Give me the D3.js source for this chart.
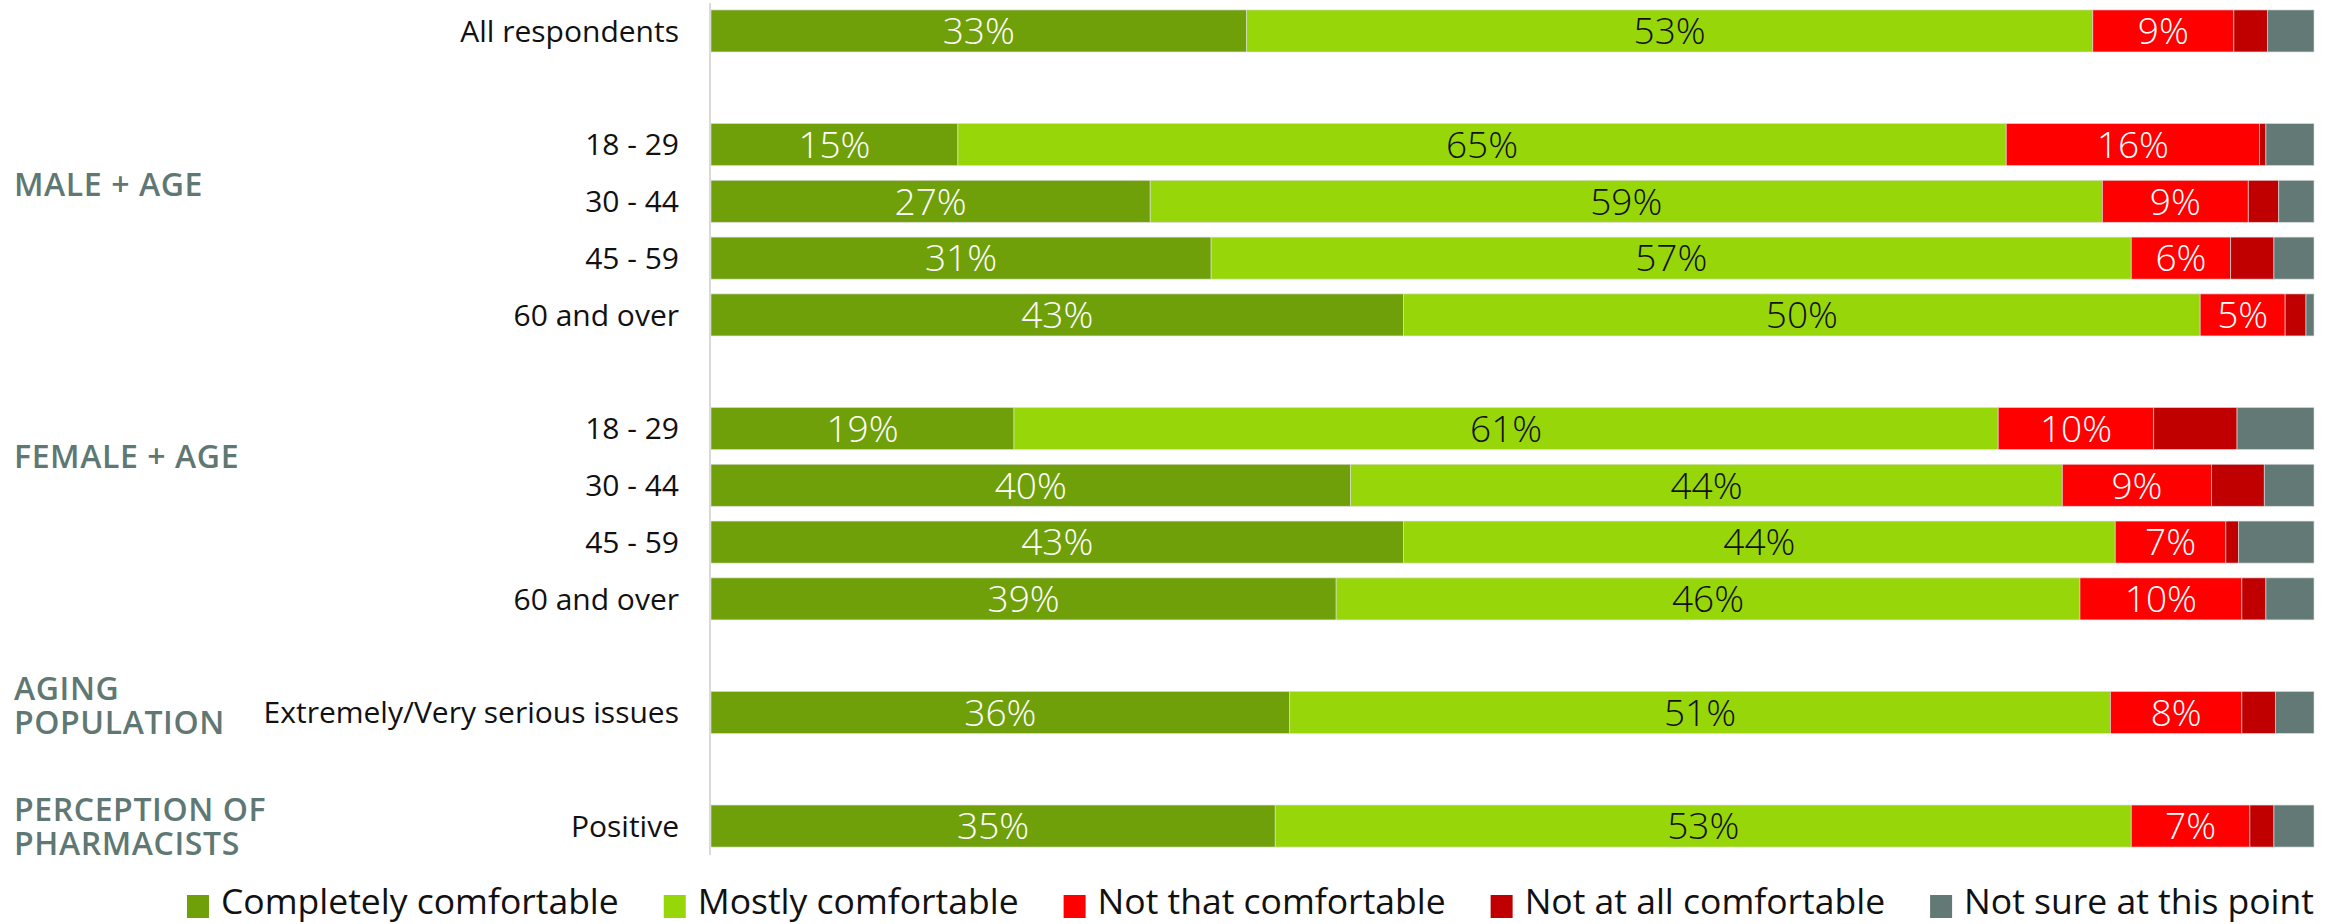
<!DOCTYPE html>
<html>
<head>
<meta charset="utf-8">
<script src="https://cdn.jsdelivr.net/npm/d3@7"></script>
<style>
  html, body { margin: 0; padding: 0; background: #ffffff; }
  svg { display: block; }
</style>
</head>
<body>
<svg id="chart" width="2339" height="924"></svg>
<script>
// ---------------- DATA ----------------
// Row labels (empty strings are spacer rows between groups)
const rowLabels = ["All respondents", "", "18 - 29", "30 - 44", "45 - 59", "60 and over", "",
                   "18 - 29", "30 - 44", "45 - 59", "60 and over", "",
                   "Extremely/Very serious issues", "", "Positive"];

const seriesNames = ["Completely comfortable", "Mostly comfortable", "Not that comfortable",
                     "Not at all comfortable", "Not sure at this point"];

// Percent values per series (null = spacer row)
const completely = [33.4, null, 15.4, 27.4, 31.2, 43.2, null, 18.9, 39.9, 43.2, 39.0, null, 36.1, null, 35.2];
const mostly     = [52.8, null, 65.4, 59.4, 57.4, 49.7, null, 61.4, 44.4, 44.4, 46.4, null, 51.2, null, 53.4];
const notThat    = [ 8.8, null, 15.8,  9.1,  6.2,  5.3, null,  9.7,  9.3,  6.9, 10.1, null,  8.2, null,  7.4];
const notAtAll   = [ 2.1, null,  0.4,  1.9,  2.7,  1.3, null,  5.2,  3.3,  0.8,  1.5, null,  2.1, null,  1.5];
const notSure    = [ 2.9, null,  3.0,  2.2,  2.5,  0.5, null,  4.8,  3.1,  4.7,  3.0, null,  2.4, null,  2.5];

// Group headings: text lines and the row position they sit beside
const groupLines  = [["MALE + AGE"], ["FEMALE + AGE"], ["AGING", "POPULATION"], ["PERCEPTION OF", "PHARMACISTS"]];
const groupAnchor = [2.7, 7.5, 11.88, 14];

// Which series carry value labels
const labelledSeries = [0, 1, 2];

// ---------------- STYLE / LAYOUT ----------------
const colors = ["#6fa00a", "#97d70a", "#ff0000", "#c00000", "#627975"];
const labelColors = ["#ffffff", "#111111", "#ffffff", "#ffffff", "#ffffff"];
const groupColor = "#5f7873";
const FONT = "'Open Sans', 'Noto Sans', 'DejaVu Sans', sans-serif";

const svg = d3.select("#chart");

const seriesArrays = [completely, mostly, notThat, notAtAll, notSure];
const rows = rowLabels.map((label, i) => {
  const o = { idx: i, label: label, spacer: completely[i] === null };
  seriesNames.forEach((s, k) => { o[s] = seriesArrays[k][i] === null ? 0 : seriesArrays[k][i]; });
  return o;
});

const x = d3.scaleLinear().domain([0, 100]).range([711, 2314]);
const y = d3.scaleBand()
  .domain(rows.map(r => r.idx))
  .range([0, 857])
  .paddingInner(0.26)
  .paddingOuter(0.175);

const stack = d3.stack().keys(seriesNames);
const stacked = stack(rows.filter(r => !r.spacer));

// vertical axis line
svg.append("line")
  .attr("x1", x(0) - 1).attr("x2", x(0) - 1)
  .attr("y1", 3).attr("y2", 855)
  .attr("stroke", "#d9d9d9").attr("stroke-width", 2);

// bars
const layers = svg.append("g").selectAll("g")
  .data(stacked).join("g")
  .attr("fill", (d, i) => colors[i]);

layers.selectAll("rect")
  .data(d => d)
  .join("rect")
  .attr("x", d => x(d[0]))
  .attr("width", d => x(d[1]) - x(d[0]))
  .attr("y", d => y(d.data.idx))
  .attr("height", y.bandwidth())
  .attr("stroke", "#dcdcdc")
  .attr("stroke-width", 0.8)
  .attr("stroke-opacity", 0.8);

// value labels
stacked.forEach((layer, k) => {
  if (!labelledSeries.includes(k)) return;
  svg.append("g").selectAll("text")
    .data(layer).join("text")
    .attr("x", d => (x(d[0]) + x(d[1])) / 2)
    .attr("y", d => y(d.data.idx) + y.bandwidth() / 2)
    .attr("dy", "0.36em")
    .attr("text-anchor", "middle")
    .attr("font-family", FONT)
    .attr("font-size", 37)
    .attr("font-weight", 300)
    .attr("fill", labelColors[k])
    .text(d => Math.round(d[1] - d[0]) + "%");
});

// category labels
svg.append("g").selectAll("text")
  .data(rows.filter(r => !r.spacer)).join("text")
  .attr("x", x(0) - 32)
  .attr("y", d => y(d.idx) + y.bandwidth() / 2)
  .attr("dy", "0.36em")
  .attr("text-anchor", "end")
  .attr("font-family", FONT)
  .attr("font-size", 30)
  .attr("fill", "#111111")
  .text(d => d.label);

// group headings (one text element per line)
const lineH = 34;
groupLines.forEach((lines, g) => {
  const cy = y(0) + groupAnchor[g] * y.step() + y.bandwidth() / 2;
  lines.forEach((ln, j) => {
    svg.append("text")
      .attr("x", 14)
      .attr("y", cy + (j - (lines.length - 1) / 2) * lineH)
      .attr("dy", "0.36em")
      .attr("font-family", FONT)
      .attr("font-size", 32)
      .attr("font-weight", 600)
      .attr("letter-spacing", 0.6)
      .attr("fill", groupColor)
      .text(ln);
  });
});

// legend (right aligned to the plot)
const legend = svg.append("g");
const sq = 22, gapText = 12, gapItem = 45, legBase = 914, sqTop = 895;
const items = legend.selectAll("g").data(seriesNames).join("g");
items.append("rect")
  .attr("width", sq).attr("height", 23)
  .attr("y", sqTop)
  .attr("fill", (d, i) => colors[i]);
items.append("text")
  .attr("x", sq + gapText)
  .attr("y", legBase)
  .attr("font-family", FONT)
  .attr("font-size", 35.5)
  .attr("fill", "#111111")
  .text(d => d);
let widths = [];
items.each(function () { widths.push(sq + gapText + d3.select(this).select("text").node().getComputedTextLength()); });
const total = d3.sum(widths) + gapItem * (widths.length - 1);
let cx = x.range()[1] - total;
items.attr("transform", (d, i) => {
  const tx = cx; cx += widths[i] + gapItem; return `translate(${tx},0)`;
});
</script>
</body>
</html>
